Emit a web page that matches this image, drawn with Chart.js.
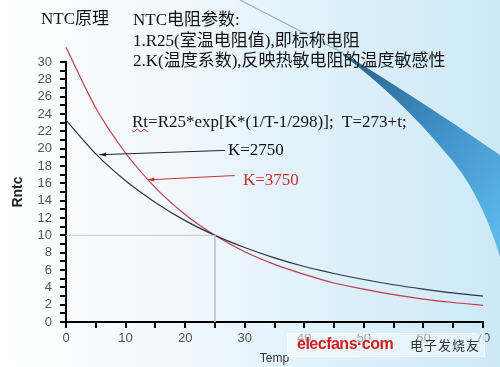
<!DOCTYPE html>
<html>
<head>
<meta charset="utf-8">
<script src="https://cdn.jsdelivr.net/npm/chart.js@4"></script>
<style>
  html, body { margin: 0; padding: 0; }
  #wrap {
    position: relative; width: 500px; height: 367px; overflow: hidden;
    background: linear-gradient(to right, #ffffff 0%, #f1f8fd 35%, #dcf0fa 70%, #cde8f7 100%);
    font-family: "Liberation Serif", "Noto Sans CJK SC", serif;
  }
  #bg { position: absolute; left: 0; top: 0; }
  #chart { position: absolute; left: 0; top: 0; }
  .t { position: absolute; white-space: nowrap; font-size: 17px; color: #111; line-height: 20px; }
  .rt { text-decoration: underline wavy #d03030; text-decoration-thickness: 1px; }
  #wm {
    position: absolute; left: 287px; top: 333px; width: 196px; height: 22px;
    background: rgba(255,255,255,0.45); border: 1px solid rgba(255,255,255,0.7);
    white-space: nowrap;
  }
  #wm .e { position: absolute; left: 9px; top: 1px; font: bold 16px "Liberation Sans", Arial, sans-serif; color: #d21d1d; letter-spacing: -0.5px; }
  #wm .c { position: absolute; left: 122px; top: 2px; font-size: 13px; color: #333; letter-spacing: 1px; font-family: "Noto Sans CJK SC", sans-serif; line-height: 18px; }
</style>
</head>
<body>
<div id="wrap">
  <svg id="bg" width="500" height="367">
    <defs>
      <linearGradient id="sw" x1="0" y1="0" x2="1" y2="1">
        <stop offset="0" stop-color="#2c5f86"/>
        <stop offset="0.45" stop-color="#3d8cc2"/>
        <stop offset="1" stop-color="#62bdee"/>
      </linearGradient>
    </defs>
    <path d="M240,0 L343,53" stroke="#8fb2cc" stroke-width="1.2" fill="none"/>
    <path d="M343,53 Q420,100 500,155 L500,257 Q480,190 445,152 Q400,98 343,55 Z" fill="url(#sw)"/>
  </svg>
  <canvas id="chart" width="500" height="367"></canvas>
  <div class="t" style="left:41px; top:9px;">NTC原理</div>
  <div class="t" style="left:133px; top:10px;">NTC电阻参数:</div>
  <div class="t" style="left:133px; top:31px;">1.R25(室温电阻值),即标称电阻</div>
  <div class="t" style="left:133px; top:51px;">2.K(温度系数),反映热敏电阻的温度敏感性</div>
  <div class="t" style="left:132px; top:112px;"><span class="rt">Rt</span>=R25*exp[K*(1/T-1/298)];&nbsp;&nbsp;T=273+t;</div>
  <div class="t" style="left:228px; top:140px;">K=2750</div>
  <div class="t" style="left:243px; top:170px; color:#c83232;">K=3750</div>
  <div id="wm"><span class="e">elecfans·com</span><span class="c">电子发烧友</span></div>
</div>
<script>
  // temperature t (°C)
  const temps = [0, 5, 10, 15, 20, 25, 30, 35, 40, 45, 50, 55, 60, 65, 70];
  // Rntc
  const rK2750 = [23.3, 19.4, 16.3, 13.8, 11.7, 10.0, 8.6, 7.4, 6.4, 5.6, 4.9, 4.3, 3.8, 3.35, 2.98];
  const rK3750 = [31.7, 24.7, 19.5, 15.5, 12.4, 10.0, 8.1, 6.65, 5.5, 4.5, 3.8, 3.15, 2.65, 2.25, 1.92];
  // guide lines at R25
  const guideX = [0, 25, 25];
  const guideY = [10, 10, 0];
  // arrows: tip on the curve (data units) -> tail (data units)
  const arrowTips = [[5.6, 19.3], [13.7, 16.4]];
  const arrowTails = [[26.7, 19.8], [28.3, 16.9]];
  const arrowColors = ['#222', '#c83232'];

  const pts = (xs, ys) => xs.map((x, i) => ({ x: x, y: ys[i] }));

  const arrowPlugin = {
    id: 'arrows',
    afterDatasetsDraw(chart) {
      const ctx = chart.ctx, xs = chart.scales.x, ys = chart.scales.y;
      arrowTips.forEach((tip, i) => {
        const x1 = xs.getPixelForValue(tip[0]), y1 = ys.getPixelForValue(tip[1]);
        const x2 = xs.getPixelForValue(arrowTails[i][0]), y2 = ys.getPixelForValue(arrowTails[i][1]);
        ctx.save();
        ctx.strokeStyle = arrowColors[i];
        ctx.fillStyle = arrowColors[i];
        ctx.lineWidth = 1;
        ctx.beginPath(); ctx.moveTo(x2, y2); ctx.lineTo(x1, y1); ctx.stroke();
        const a = Math.atan2(y1 - y2, x1 - x2);
        ctx.beginPath();
        ctx.moveTo(x1, y1);
        ctx.lineTo(x1 - 7 * Math.cos(a - 0.3), y1 - 7 * Math.sin(a - 0.3));
        ctx.lineTo(x1 - 7 * Math.cos(a + 0.3), y1 - 7 * Math.sin(a + 0.3));
        ctx.closePath(); ctx.fill();
        ctx.restore();
      });
    }
  };

  new Chart(document.getElementById('chart').getContext('2d'), {
    type: 'line',
    data: {
      datasets: [
        {
          data: pts(guideX, guideY),
          borderColor: '#c4c4c4', borderWidth: 1, pointRadius: 0, tension: 0
        },
        {
          label: 'K=2750',
          data: pts(temps, rK2750),
          borderColor: '#2b3440', borderWidth: 1.2, pointRadius: 0,
          cubicInterpolationMode: 'monotone', clip: false
        },
        {
          label: 'K=3750',
          data: pts(temps, rK3750),
          borderColor: '#c03a4a', borderWidth: 1.2, pointRadius: 0,
          cubicInterpolationMode: 'monotone', clip: false
        }
      ]
    },
    options: {
      responsive: false,
      animation: false,
      layout: { padding: { top: 62, right: 17, left: 0, bottom: 0 } },
      plugins: { legend: { display: false }, tooltip: { enabled: false } },
      scales: {
        x: {
          type: 'linear', min: 0, max: 70,
          afterFit: s => { s.height = 45; },
          border: { color: '#000', width: 2 },
          grid: { drawOnChartArea: false, drawTicks: true, tickLength: 6, tickColor: '#000', lineWidth: 2 },
          ticks: {
            stepSize: 5, autoSkip: false, maxRotation: 0, padding: 3,
            color: '#555', font: { family: 'Liberation Sans', size: 13 },
            callback: v => (v % 10 === 0 ? v : '')
          },
          title: {
            display: true, text: 'Temp', color: '#333',
            font: { family: 'Liberation Sans', size: 12 }, padding: { top: 0, bottom: 1 }
          }
        },
        y: {
          min: 0, max: 30,
          afterFit: s => { s.width = 66; },
          border: { color: '#000', width: 2 },
          grid: { drawOnChartArea: false, drawTicks: true, tickLength: 6, tickColor: '#000', lineWidth: 2 },
          ticks: {
            stepSize: 1, autoSkip: false, padding: 8,
            color: '#555', font: { family: 'Liberation Sans', size: 13 },
            callback: v => (v % 2 === 0 ? v : '')
          },
          title: {
            display: true, text: 'Rntc', color: '#222',
            font: { family: 'Liberation Sans', size: 14, weight: 'bold' }, padding: { top: 10, bottom: 0 }
          }
        }
      }
    },
    plugins: [arrowPlugin]
  });
</script>
</body>
</html>
